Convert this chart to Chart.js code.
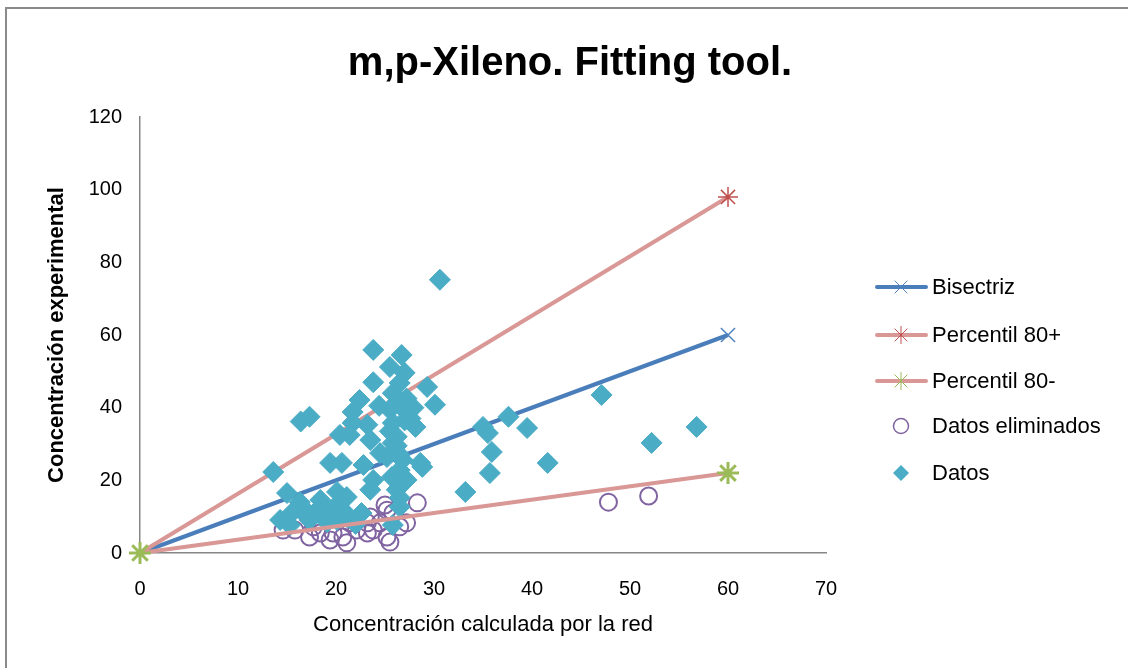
<!DOCTYPE html>
<html>
<head>
<meta charset="utf-8">
<script src="https://cdn.jsdelivr.net/npm/chart.js@4.4.1/dist/chart.umd.min.js"></script>
<style>
  html, body { margin: 0; padding: 0; background: #fff; }
  #wrap { position: relative; width: 1128px; height: 668px; }
  #frame { position: absolute; left: 5px; top: 7px; right: -4px; bottom: -4px; border-top: 2px solid #8a8a8a; border-left: 2px solid #8a8a8a; pointer-events: none; }
  canvas { display: block; }
</style>
</head>
<body>
<div id="wrap">
  <canvas id="c" width="1128" height="668"></canvas>
  <div id="frame"></div>
</div>
<script>
const chartTitle = "m,p-Xileno. Fitting tool.";
const xTitle = "Concentración calculada por la red";
const yTitle = "Concentración experimental";
const seriesNames = ["Bisectriz", "Percentil 80+", "Percentil 80-", "Datos eliminados", "Datos"];

const lineX = [0, 60];
const bisectrizY = [0, 60];
const p80plusY = [0, 98];
const p80minusY = [0, 22];

const datosX = [30.6, 23.8, 26.7, 25.5, 27.0, 23.8, 26.5, 29.3, 25.8, 27.2, 30.1, 22.4, 21.7, 25.5, 27.2, 17.3, 16.4, 21.7, 23.2, 25.8,
  28.1, 20.4, 21.4, 26.2, 23.5, 26.2, 24.5, 26.5, 19.4, 20.6, 22.8, 28.6, 28.8, 25.2, 26.8, 13.6, 25.7, 23.8, 27.2, 23.5,
  26.2, 26.5, 15.0, 16.3, 15.6, 14.3, 15.3, 18.4, 20.1, 21.1, 18.1, 19.4, 20.7, 17.3, 19.1, 20.1, 21.1, 26.5, 25.8, 35.0,
  35.5, 37.6, 39.5, 35.9, 35.7, 41.6, 33.2, 47.1, 52.2, 56.8, 16.5, 17.0, 22.0, 24.4, 25.8, 27.0, 26.3, 27.9, 26.5, 22.6,
  25.5, 27.6, 20.3, 18.6];
const datosY = [75.2, 55.9, 54.5, 51.2, 49.6, 47.0, 46.8, 45.7, 44.0, 42.5, 40.8, 42.1, 38.8, 39.4, 38.8, 37.5, 36.2, 35.8, 35.3, 35.8,
  34.7, 32.5, 32.5, 32.0, 31.1, 29.5, 27.5, 27.0, 24.8, 24.8, 24.2, 24.8, 23.7, 26.4, 25.6, 22.3, 20.9, 20.1, 20.1, 17.4,
  17.4, 15.2, 16.5, 14.0, 11.3, 9.1, 7.7, 14.6, 16.8, 15.4, 11.8, 11.0, 11.8, 9.1, 8.5, 9.1, 9.9, 12.7, 7.7, 34.7,
  33.0, 37.5, 34.4, 27.8, 22.0, 24.8, 16.8, 43.5, 30.3, 34.7, 12.8, 10.2, 8.0, 40.5, 30.3, 36.5, 41.8, 40.0, 22.8, 11.0,
  33.5, 37.0, 13.8, 12.6];

const elimX = [14.6, 15.8, 17.3, 18.4, 19.7, 21.1, 20.7, 22.1, 21.4, 23.2, 23.5, 24.5, 25.2, 25.0, 25.8, 26.5, 25.2, 25.5, 28.3, 27.2,
  23.2, 19.4, 17.7, 23.8, 47.8, 51.9];
const elimY = [6.3, 6.3, 4.4, 5.5, 5.5, 2.8, 4.4, 6.3, 8.3, 8.3, 9.9, 8.3, 11.8, 13.2, 11.0, 7.2, 4.4, 3.0, 13.8, 8.3,
  5.5, 3.6, 7.2, 6.3, 14.0, 15.7];

const xTicks = [0, 10, 20, 30, 40, 50, 60, 70];
const yTicks = [0, 20, 40, 60, 80, 100, 120];

function pts(xs, ys) { return xs.map((x, i) => ({ x: x, y: ys[i] })); }

const FONT = "'Liberation Sans', Arial, sans-serif";

const datasets = [
  { label: seriesNames[0], data: pts(lineX, bisectrizY), showLine: true, borderColor: '#4a7ebb', borderWidth: 4, clip: false,
    pointStyle: 'crossRot', pointRadius: 10, pointBorderColor: '#4f81bd', pointBackgroundColor: '#4f81bd', pointBorderWidth: 1.5, order: 4 },
  { label: seriesNames[1], data: pts(lineX, p80plusY), showLine: true, borderColor: '#d99795', borderWidth: 4, clip: false,
    pointStyle: 'star', pointRadius: 10, pointBorderColor: '#c0504d', pointBackgroundColor: '#c0504d', pointBorderWidth: 1.5, order: 3 },
  { label: seriesNames[2], data: pts(lineX, p80minusY), showLine: true, borderColor: '#d99795', borderWidth: 4, clip: false,
    pointStyle: 'star', pointRadius: 11, pointBorderColor: '#9bbb59', pointBackgroundColor: '#9bbb59', pointBorderWidth: 3, order: 0 },
  { label: seriesNames[3], data: pts(elimX, elimY), showLine: false, borderColor: '#8064a2',
    pointStyle: 'circle', pointRadius: 8.5, pointBorderColor: '#8064a2', pointBackgroundColor: 'rgba(0,0,0,0)', pointBorderWidth: 2, order: 2 },
  { label: seriesNames[4], data: pts(datosX, datosY), showLine: false, borderColor: '#4bacc6',
    pointStyle: 'rectRot', pointRadius: 10.5, pointBorderColor: '#4bacc6', pointBackgroundColor: '#4bacc6', pointBorderWidth: 1, order: 1 }
];

function drawMarker(ctx, style, x, y, r, color, lw, fill) {
  ctx.save();
  ctx.strokeStyle = color; ctx.fillStyle = fill || color; ctx.lineWidth = lw;
  ctx.beginPath();
  if (style === 'crossRot' || style === 'star') {
    const d = r * Math.SQRT1_2;
    ctx.moveTo(x - d, y - d); ctx.lineTo(x + d, y + d);
    ctx.moveTo(x - d, y + d); ctx.lineTo(x + d, y - d);
    if (style === 'star') { ctx.moveTo(x, y - r); ctx.lineTo(x, y + r); }
    ctx.stroke();
  } else if (style === 'circle') {
    ctx.arc(x, y, r, 0, Math.PI * 2); ctx.stroke();
  } else if (style === 'rectRot') {
    ctx.moveTo(x, y - r); ctx.lineTo(x + r, y); ctx.lineTo(x, y + r); ctx.lineTo(x - r, y); ctx.closePath(); ctx.fill();
  }
  ctx.restore();
}

const decor = {
  id: 'decor',
  afterDraw(chart) {
    const ctx = chart.ctx;
    ctx.save();
    ctx.fillStyle = '#000';
    ctx.font = "bold 40px " + FONT;
    ctx.textAlign = 'center'; ctx.textBaseline = 'middle';
    ctx.fillText(chartTitle, 570, 64);
    // legend
    const rows = [287, 335, 381, 426, 473];
    ctx.font = "22px " + FONT;
    ctx.textAlign = 'left';
    chart.data.datasets.forEach((ds, i) => {
      const y = rows[i];
      if (ds.showLine) {
        ctx.save();
        ctx.strokeStyle = ds.borderColor; ctx.lineWidth = 4; ctx.lineCap = 'round';
        ctx.beginPath(); ctx.moveTo(877, y); ctx.lineTo(926, y); ctx.stroke();
        ctx.restore();
      }
      const r = ds.pointStyle === 'circle' ? 7.5 : (ds.pointStyle === 'rectRot' ? 8 : 9);
      drawMarker(ctx, ds.pointStyle, 901, y, r, ds.pointBorderColor, ds.pointStyle === 'circle' ? 1.5 : 1, ds.pointBackgroundColor);
      ctx.fillStyle = '#000';
      ctx.fillText(ds.label, 932, y + 1);
    });
    ctx.restore();
  }
};

new Chart(document.getElementById('c'), {
  type: 'scatter',
  data: { datasets: datasets },
  options: {
    responsive: false,
    animation: false,
    layout: { padding: { top: 117, right: 302, bottom: 0, left: 0 } },
    plugins: { legend: { display: false }, tooltip: { enabled: false }, title: { display: false } },
    scales: {
      x: {
        type: 'linear', min: 0, max: 70,
        afterFit(s) { s.height = 115; },
        afterBuildTicks(s) { s.ticks = xTicks.map(v => ({ value: v })); },
        grid: { display: false, drawTicks: false },
        border: { display: true, color: '#868686', width: 1.5 },
        ticks: { color: '#000', font: { family: FONT, size: 20 }, padding: 24 },
        title: { display: true, text: xTitle, color: '#000', font: { family: FONT, size: 22 }, padding: { top: 0, bottom: 30 } }
      },
      y: {
        type: 'linear', min: 0, max: 120,
        afterFit(s) { s.width = 140; },
        afterBuildTicks(s) { s.ticks = yTicks.map(v => ({ value: v })); },
        grid: { display: false, drawTicks: false },
        border: { display: true, color: '#868686', width: 1.5 },
        ticks: { color: '#000', font: { family: FONT, size: 20 }, padding: 18 },
        title: { display: true, text: yTitle, color: '#000', font: { family: FONT, size: 22, weight: 'bold' }, padding: { top: 44, bottom: 0 } }
      }
    }
  },
  plugins: [decor]
});
</script>
</body>
</html>
